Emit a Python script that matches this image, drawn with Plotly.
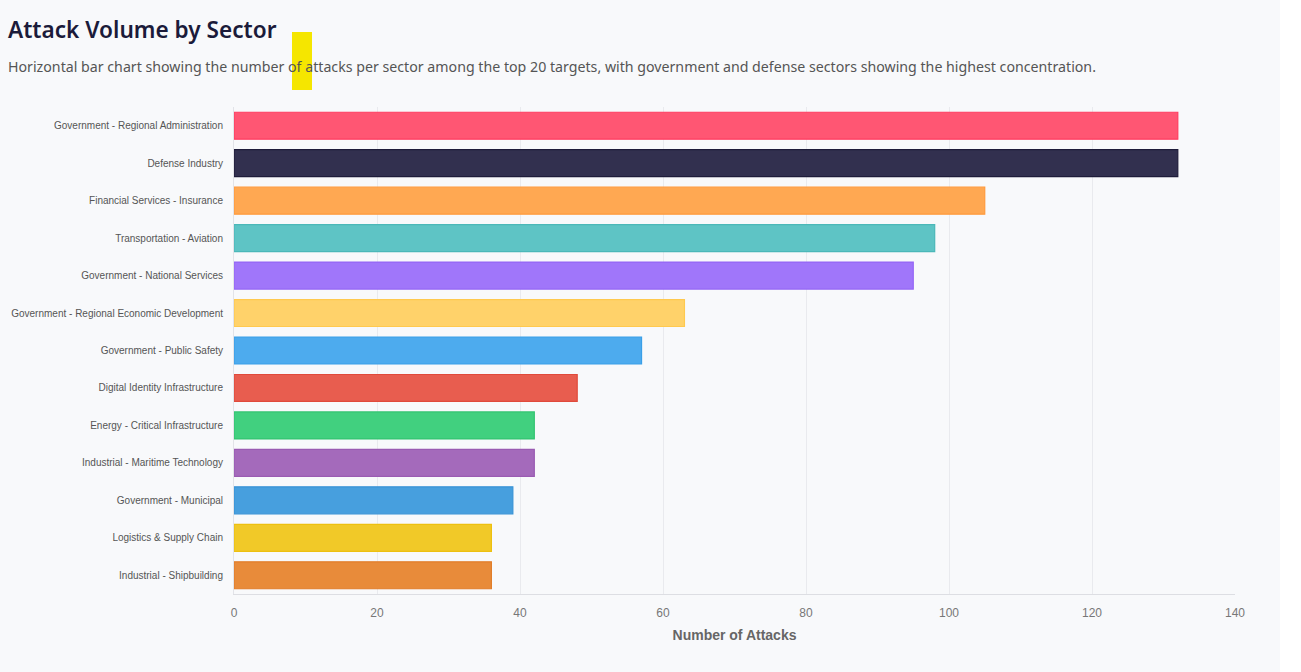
import plotly.graph_objects as go

sectors = [
    "Government - Regional Administration",
    "Defense Industry",
    "Financial Services - Insurance",
    "Transportation - Aviation",
    "Government - National Services",
    "Government - Regional Economic Development",
    "Government - Public Safety",
    "Digital Identity Infrastructure",
    "Energy - Critical Infrastructure",
    "Industrial - Maritime Technology",
    "Government - Municipal",
    "Logistics & Supply Chain",
    "Industrial - Shipbuilding",
]
attacks = [132, 132, 105, 98, 95, 63, 57, 48, 42, 42, 39, 36, 36]
fill_colors = ["#FF5673", "#32304F", "#FFA852", "#5EC4C5", "#A076FA", "#FFD26A", "#4DABEE",
               "#E85D4F", "#41D07F", "#A46ABB", "#479FDE", "#F1C928", "#E88B3A"]
line_colors = ["#FF3D60", "#1E1C3A", "#FF9A3C", "#4BB8B9", "#9466F5", "#FFC94F", "#3A9FE8",
               "#E04A3B", "#33C372", "#9A5BB2", "#3893D6", "#EDC010", "#E17E2A"]

W, H = 1280, 672
L, R, T, B = 234, 1235, 107, 594
pw, ph = R - L, B - T

def px(x):
    return (x - L) / pw

def py(y):
    return (B - y) / ph

fig = go.Figure(go.Bar(
    x=attacks, y=sectors, orientation="h",
    marker=dict(color=fill_colors, line=dict(color=line_colors, width=1.2)),
    width=0.72,
))

fig.update_layout(
    width=W, height=H,
    margin=dict(l=L, r=W - R, t=T, b=H - B, pad=0),
    paper_bgcolor="#F8F9FB", plot_bgcolor="#F8F9FB",
    showlegend=False,
    font=dict(family="Liberation Sans, Arial, sans-serif", color="#555"),
    xaxis=dict(range=[0, 140], dtick=20, showgrid=True, gridcolor="#E9EAEE", gridwidth=1,
               zeroline=False, showline=True, linecolor="#DDDEE3", linewidth=1, automargin=False,
               tickfont=dict(size=12, color="#777"), ticks="", ticklabelstandoff=8,
               title=dict(text="<b>Number of Attacks</b>", font=dict(size=14, color="#666"), standoff=10)),
    yaxis=dict(autorange="reversed", showgrid=False, zeroline=False, showline=True, automargin=False,
               linecolor="#E2E3E8", linewidth=1, ticks="", ticklabelstandoff=8,
               tickfont=dict(size=10, color="#555")),
    annotations=[
        dict(text="Attack Volume by Sector", xref="paper", yref="paper", x=px(6), y=py(30),
             xanchor="left", yanchor="middle", showarrow=False,
             font=dict(family="Noto Sans, Open Sans, sans-serif", size=22.6, color="#1B1B3A", weight=600)),
        dict(text="Horizontal bar chart showing the number of attacks per sector among the top 20 targets, with government and defense sectors showing the highest concentration.",
             xref="paper", yref="paper", x=px(6), y=py(67), xanchor="left", yanchor="middle",
             showarrow=False, font=dict(family="Noto Sans, Open Sans, sans-serif", size=14.2, color="#555")),
    ],
    shapes=[dict(type="rect", xref="paper", yref="paper", x0=px(292), x1=px(312),
                 y0=py(90), y1=py(32), fillcolor="#F5E600", line=dict(width=0), layer="above")],
)

fig.write_html("out.html")
